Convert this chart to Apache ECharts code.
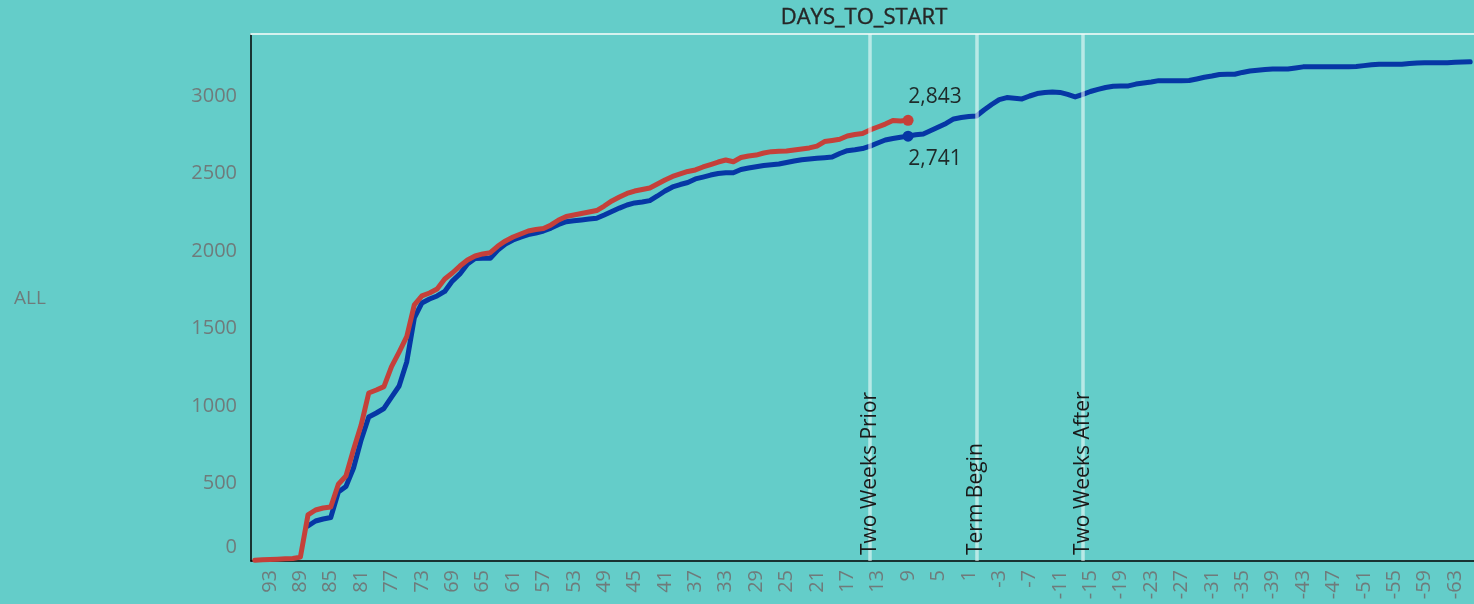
<!DOCTYPE html>
<html>
<head>
<meta charset="utf-8">
<script src="https://cdn.jsdelivr.net/npm/echarts@6/dist/echarts.min.js"></script>
<style>
html,body{margin:0;padding:0;background:#64cdc9;}
#chart{width:1474px;height:604px;}
</style>
</head>
<body>
<div id="chart"></div>
<script>
// Days to start: 95 down to -65
const days = [];
for (let d = 95; d >= -65; d--) days.push(String(d));

// Red series (current term), days 95 .. 9
const redValues = [5,8,10,12,14,16,25,297,329,342,348,495,548,720,877,1084,1103,1125,1254,1348,
1447,1652,1710,1729,1755,1819,1858,1903,1942,1968,1981,1989,2032,2065,2090,2110,2129,2139,2145,2168,
2200,2223,2232,2242,2252,2261,2290,2323,2348,2371,2387,2397,2406,2432,2458,2481,2497,2513,2523,2542,
2558,2574,2587,2576,2603,2613,2619,2632,2641,2643,2645,2652,2658,2665,2677,2706,2713,2721,2742,2752,
2758,2781,2800,2819,2842,2838,2843];

// Blue series (prior term), days 95 .. -65
const blueValues = [null,null,null,null,null,null,null,
226,258,271,281,445,481,600,781,929,955,984,1058,1129,1284,1568,1665,1690,1710,1739,1806,
1852,1916,1952,1953,1953,2006,2045,2071,2090,2106,2116,
2129,2148,2171,2189,2195,2200,2206,2211,2232,2255,2277,2297,2310,2316,2325,2355,2387,2413,2429,2442,
2465,2477,2490,2500,2505,2505,2526,2535,2544,2552,2557,2561,2571,2581,2589,2594,2598,2602,2606,2629,
2647,2653,2661,2677,2697,2716,2726,2734,2741,
2750,2755,2777,2800,2823,2852,2861,2868,2871,
2910,2945,2977,2990,2985,2981,3000,3016,3023,3026,3023,3010,2994,3010,3029,3043,3055,3063,3065,3065,
3077,3084,3090,3099,3099,3099,3099,3100,3110,3121,3129,3139,3140,3140,3152,3161,3166,3171,3174,3174,
3174,3181,3188,3189,3189,3189,3189,3189,3189,3191,3196,3201,3205,3205,3205,3205,3209,3213,3215,3215,
3215,3215,3218,3219,3221];

// Reference lines
const refDays = ['14','0','-14'];
const refNames = ['Two Weeks Prior','Term Begin','Two Weeks After'];

// Highlighted point day
const markDay = '9';

const FONT = 'Open Sans';
const markIdx = days.indexOf(markDay);

function withMark(values, pos, offset) {
  return values.map((v, i) => {
    if (i !== markIdx) return v;
    return {
      value: v,
      symbol: 'circle',
      symbolSize: 11,
      label: {
        show: true,
        position: pos,
        distance: 7,
        offset: offset,
        formatter: (p) => p.value.toLocaleString('en-US'),
        color: '#1e2a2a',
        fontFamily: FONT,
        fontSize: 21
      }
    };
  });
}

const chart = echarts.init(document.getElementById('chart'));
chart.setOption({
  backgroundColor: '#64cdc9',
  animation: false,
  title: [
    {text: 'DAYS_TO_START', left: 864, top: 7, padding: 0, textAlign: 'center',
     textStyle: {fontFamily: FONT, fontSize: 22, fontWeight: 'normal', color: '#262626',
                 textBorderColor: '#262626', textBorderWidth: 0.4}},
    {text: 'ALL', left: 14, top: 289, padding: 0,
     textStyle: {fontFamily: FONT, fontSize: 19, fontWeight: 'normal', color: '#6f7b7b'}}
  ],
  grid: {left: 251, top: 34, width: 1227, height: 527, containLabel: false},
  xAxis: [{
    type: 'category',
    data: days,
    boundaryGap: true,
    axisLine: {show: true, lineStyle: {color: '#000', width: 1.5}},
    axisTick: {show: false},
    axisLabel: {
      rotate: 90, margin: 9,
      interval: (index) => index % 4 === 2,
      color: '#6f7b7b', fontFamily: FONT, fontSize: 20
    },
    splitLine: {show: false}
  }, {
    type: 'category',
    data: days,
    position: 'top',
    boundaryGap: true,
    axisLine: {show: true, lineStyle: {color: '#d5f1ee', width: 2}},
    axisTick: {show: false},
    axisLabel: {show: false},
    splitLine: {show: false}
  }],
  yAxis: {
    type: 'value',
    min: 0, max: 3400, interval: 500,
    axisLine: {show: true, lineStyle: {color: '#000', width: 1.5}},
    axisTick: {show: false},
    splitLine: {show: false},
    axisLabel: {
      margin: 14,
      color: '#6f7b7b', fontFamily: FONT, fontSize: 20,
      formatter: (v) => v % 500 !== 0 ? '' : (v === 0 ? '{z|0}' : String(v)),
      rich: {z: {color: '#6f7b7b', fontFamily: FONT, fontSize: 20, padding: [0, 0, 28, 0]}}
    }
  },
  series: [
    {
      name: 'Prior',
      type: 'line',
      data: withMark(blueValues, 'bottom', [27, 0]),
      symbol: 'none',
      showSymbol: true,
      showAllSymbol: true,
      connectNulls: false,
      lineStyle: {color: '#0637a5', width: 5, cap: 'round', join: 'round'},
      itemStyle: {color: '#0637a5'},
      emphasis: {disabled: true},
      z: 2
    },
    {
      name: 'Current',
      type: 'line',
      data: withMark(redValues, 'top', [27, 0]),
      symbol: 'none',
      showSymbol: true,
      showAllSymbol: true,
      lineStyle: {color: '#c5403a', width: 5, cap: 'round', join: 'round'},
      itemStyle: {color: '#c5403a'},
      emphasis: {disabled: true},
      z: 3,
      markLine: {
        silent: true,
        symbol: ['none', 'none'],
        animation: false,
        lineStyle: {color: 'rgba(240,252,250,0.6)', width: 3.5, type: 'solid'},
        label: {
          show: true,
          position: 'insideStart',
          distance: 6,
          formatter: (p) => p.name,
          color: '#1a1a1a', fontFamily: FONT, fontSize: 21
        },
        emphasis: {disabled: true},
        data: refDays.map((d, i) => ({xAxis: d, name: refNames[i]}))
      }
    }
  ]
});
</script>
</body>
</html>
